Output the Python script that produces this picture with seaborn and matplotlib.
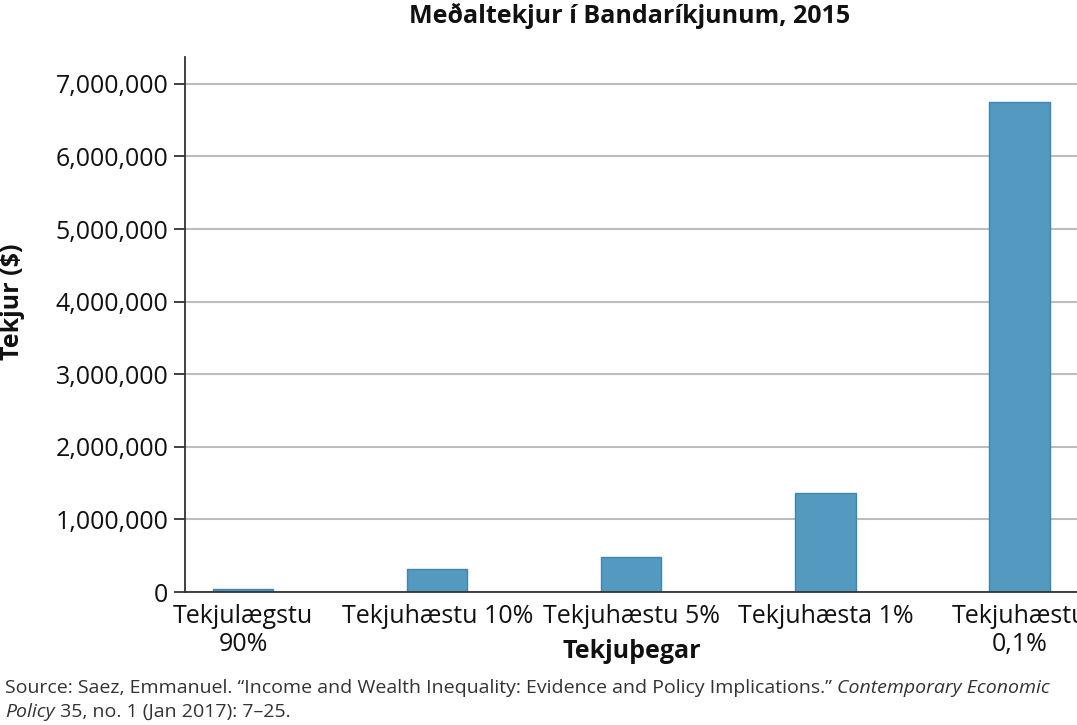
import matplotlib
matplotlib.use("Agg")
import matplotlib.pyplot as plt
import matplotlib.ticker as mticker
import pandas as pd
import seaborn as sns

# Data
groups = [
    "Tekjulægstu\n90%",
    "Tekjuhæstu 10%",
    "Tekjuhæstu 5%",
    "Tekjuhæsta 1%",
    "Tekjuhæstu\n0,1%",
]
income = [40000, 320000, 480000, 1365000, 6750000]

title = "Meðaltekjur í Bandaríkjunum, 2015"
xlabel = "Tekjuþegar"
ylabel = "Tekjur ($)"

df = pd.DataFrame({"group": groups, "income": income})

sns.set_style("white")
plt.rcParams["font.family"] = ["Open Sans", "DejaVu Sans"]

W, H = 1077, 725
fig = plt.figure(figsize=(W / 100, H / 100), dpi=100)
ax = fig.add_axes([185 / W, 133 / H, 0.865, 535 / H])

sns.barplot(data=df, x="group", y="income", color="#5499BF",
            saturation=1, width=0.31, edgecolor="#3F86AE", linewidth=1, ax=ax)

ax.set_xlim(-0.3, 4.5)
ax.set_ylim(0, 7.37e6)
ax.yaxis.set_major_locator(mticker.MultipleLocator(1e6))
ax.yaxis.set_major_formatter(mticker.FuncFormatter(lambda v, p: f"{int(v):,}"))
ax.grid(axis="y", color="#BDBDBD", linewidth=1.5)
ax.set_axisbelow(True)

for s in ["top", "right"]:
    ax.spines[s].set_visible(False)
for s in ["left", "bottom"]:
    ax.spines[s].set_color("#333333")
    ax.spines[s].set_linewidth(1.3)

ax.tick_params(axis="y", which="major", left=True, length=8, width=1.3,
               color="#333333", labelsize=18, pad=4, labelcolor="#111111")
ax.tick_params(axis="x", bottom=False, labelsize=18, pad=5, labelcolor="#111111")
for lab in ax.get_xticklabels():
    lab.set_linespacing(1.15)

ax.set_xlabel("")
ax.set_ylabel("")
fig.text(632 / W, 1 - 652 / H, xlabel, ha="center", va="center",
         fontsize=18, fontweight="bold", color="#111111")
fig.text(13 / W, 1 - 302 / H, ylabel, ha="center", va="center", rotation=90,
         fontsize=18, fontweight="bold", color="#111111")

fig.text(630 / W, 1 - 16 / H, title, ha="center", va="center",
         fontsize=18, fontweight="bold", color="#111111")

# source note, two lines with italic journal name
fs = 14
y1 = 1 - 688 / H
y2 = 1 - 712 / H
fig.canvas.draw()
r = fig.canvas.get_renderer()
t1 = fig.text(5 / W, y1, "Source: Saez, Emmanuel. \u201cIncome and Wealth Inequality: Evidence and Policy Implications.\u201d ",
              fontsize=fs, color="#333333", va="center")
bb = t1.get_window_extent(renderer=r)
fig.text(bb.x1 / W, y1, "Contemporary Economic", fontsize=fs, style="italic",
         color="#333333", va="center")
t2 = fig.text(5 / W, y2, "Policy", fontsize=fs, style="italic",
              color="#333333", va="center")
bb2 = t2.get_window_extent(renderer=r)
fig.text(bb2.x1 / W, y2, " 35, no. 1 (Jan 2017): 7\u201325.",
         fontsize=fs, color="#333333", va="center")

fig.savefig("out.png", dpi=100)
